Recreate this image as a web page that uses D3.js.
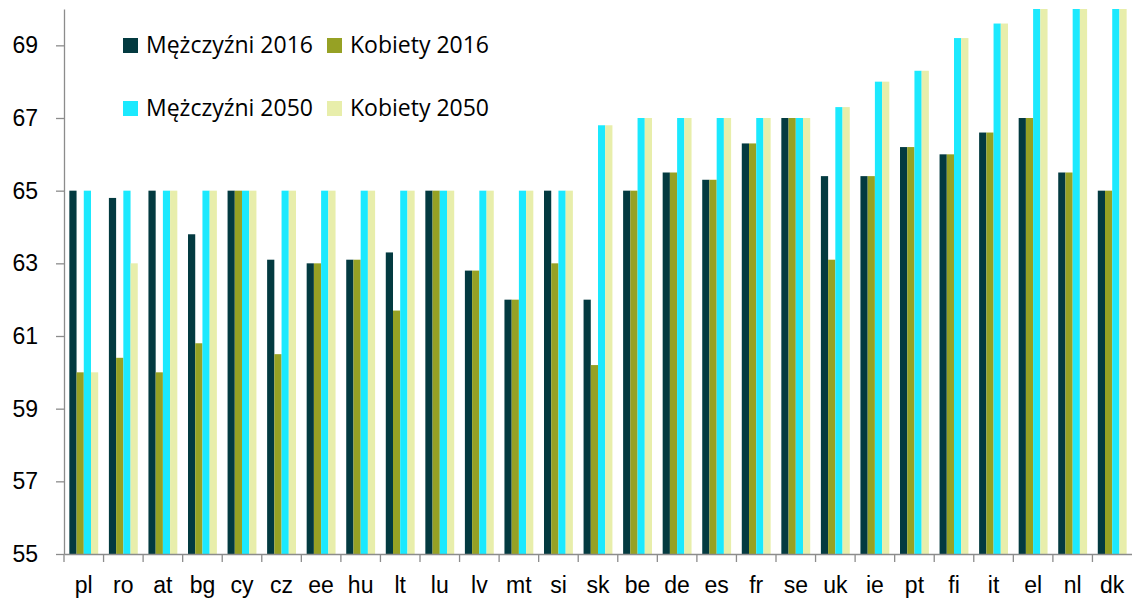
<!DOCTYPE html>
<html>
<head>
<meta charset="utf-8">
<script src="https://cdn.jsdelivr.net/npm/d3@7"></script>
<style>
  body { margin: 0; background: #fff; }
  svg { display: block; font-family: "Open Sans", Lato, sans-serif; }
</style>
</head>
<body>
<svg id="chart" width="1132" height="601"></svg>
<script>
var countries = ["pl", "ro", "at", "bg", "cy", "cz", "ee", "hu", "lt", "lu", "lv", "mt", "si", "sk",
                 "be", "de", "es", "fr", "se", "uk", "ie", "pt", "fi", "it", "el", "nl", "dk"];
var seriesNames = ["Mężczyźni 2016", "Kobiety 2016", "Mężczyźni 2050", "Kobiety 2050"];
var men2016   = [65, 64.8, 65, 63.8, 65, 63.1, 63, 63.1, 63.3, 65, 62.8, 62, 65, 62,
                 65, 65.5, 65.3, 66.3, 67, 65.4, 65.4, 66.2, 66, 66.6, 67, 65.5, 65];
var women2016 = [60, 60.4, 60, 60.8, 65, 60.5, 63, 63.1, 61.7, 65, 62.8, 62, 63, 60.2,
                 65, 65.5, 65.3, 66.3, 67, 63.1, 65.4, 66.2, 66, 66.6, 67, 65.5, 65];
var men2050   = [65, 65, 65, 65, 65, 65, 65, 65, 65, 65, 65, 65, 65, 66.8,
                 67, 67, 67, 67, 67, 67.3, 68, 68.3, 69.2, 69.6, 71, 71, 71];
var women2050 = [60, 63, 65, 65, 65, 65, 65, 65, 65, 65, 65, 65, 65, 66.8,
                 67, 67, 67, 67, 67, 67.3, 68, 68.3, 69.2, 69.6, 71, 71, 71];
var yTicks = [55, 57, 59, 61, 63, 65, 67, 69];
var colors = ["#033a40", "#96a124", "#1be9fe", "#e8eeab"];

var series = [men2016, women2016, men2050, women2050];

var svg = d3.select("#chart"),
    margin = {top: 9, right: 0, bottom: 47, left: 64},
    width = +svg.attr("width") - margin.left - margin.right,
    height = +svg.attr("height") - margin.top - margin.bottom,
    g = svg.append("g").attr("transform", "translate(" + margin.left + "," + margin.top + ")");

var x0 = d3.scaleBand().domain(countries).range([0, width])
    .paddingInner(0.27).paddingOuter(0.135);
var x1 = d3.scaleBand().domain(d3.range(4)).range([0, x0.bandwidth()]);
var y = d3.scaleLinear().domain([55, 70]).range([height, 0]);

// bars above 70 are cut off at the top of the plot
svg.append("defs").append("clipPath").attr("id", "plot")
  .append("rect").attr("width", width).attr("height", height);

var rows = countries.map(function(c, i) {
    return {country: c, values: series.map(function(s) { return s[i]; })};
});

var grp = g.append("g").attr("clip-path", "url(#plot)")
  .selectAll(".grp")
  .data(rows)
  .enter().append("g")
  .attr("transform", function(d) { return "translate(" + x0(d.country) + ",0)"; });

grp.selectAll("rect")
  .data(function(d) { return d.values; })
  .enter().append("rect")
  .attr("x", function(d, i) { return x1(i); })
  .attr("width", x1.bandwidth())
  .attr("y", function(d) { return y(d); })
  .attr("height", function(d) { return height - y(d); })
  .style("fill", function(d, i) { return colors[i]; });

// y axis
var yAxis = g.append("g")
  .call(d3.axisLeft(y).tickValues(yTicks).tickSize(8).tickPadding(18).tickSizeOuter(0));
yAxis.select(".domain").attr("stroke", "#8c8c8c").attr("stroke-width", 1.3);
yAxis.selectAll(".tick line").attr("stroke", "#8c8c8c").attr("stroke-width", 1.3);
yAxis.selectAll("text").style("font-size", "23px").style("fill", "#000");

// x axis: labels in band centres, ticks at band edges
var xAxis = g.append("g")
  .attr("transform", "translate(0," + height + ")")
  .call(d3.axisBottom(x0).tickSize(0).tickPadding(23).tickSizeOuter(0));
xAxis.select(".domain").attr("stroke", "#8c8c8c").attr("stroke-width", 1.3);
xAxis.selectAll("text").style("font-size", "23px").style("fill", "#000");

var gapHalf = (x0.step() - x0.bandwidth()) / 2;
xAxis.selectAll(".edge")
  .data(countries)
  .enter().append("line")
  .attr("x1", function(d) { return x0(d) - gapHalf; })
  .attr("x2", function(d) { return x0(d) - gapHalf; })
  .attr("y1", 0).attr("y2", 8)
  .attr("stroke", "#8c8c8c").attr("stroke-width", 1.3);

// legend, two rows of two
var legend = svg.append("g").selectAll(".leg")
  .data(seriesNames)
  .enter().append("g")
  .attr("transform", function(d, i) {
      return "translate(" + (123 + (i % 2) * 204) + "," + (38 + Math.floor(i / 2) * 63) + ")";
  });
legend.append("rect").attr("width", 15).attr("height", 15)
  .style("fill", function(d, i) { return colors[i]; });
legend.append("text").attr("x", 23).attr("y", 15)
  .style("font-size", "23px").style("fill", "#000")
  .text(function(d) { return d; });
</script>
</body>
</html>
